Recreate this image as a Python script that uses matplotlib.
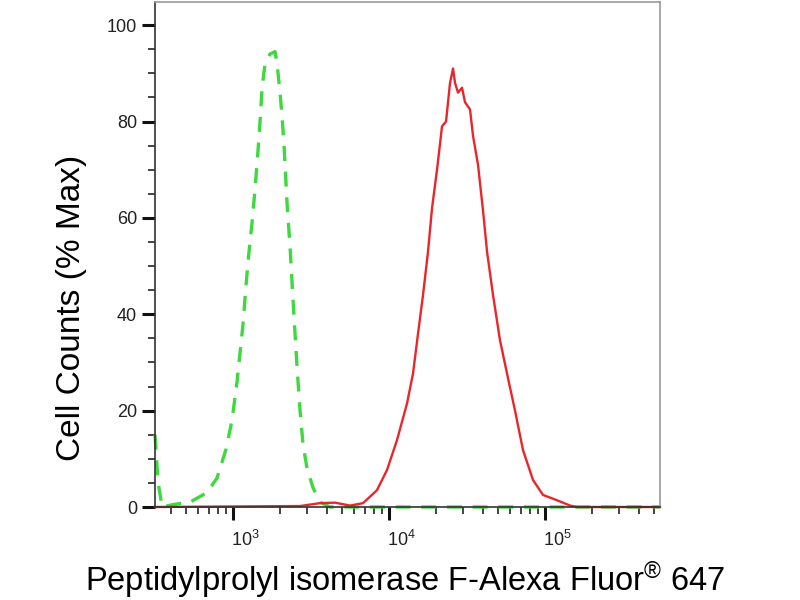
import numpy as np
import matplotlib
matplotlib.use('Agg')
import matplotlib.pyplot as plt
import matplotlib.transforms as mtransforms
from matplotlib.ticker import LogLocator, FixedLocator, MultipleLocator

plt.rcParams['font.family'] = ['Liberation Sans', 'DejaVu Sans']
plt.rcParams['mathtext.fontset'] = 'custom'
plt.rcParams['mathtext.rm'] = 'Liberation Sans'
plt.rcParams['mathtext.it'] = 'Liberation Sans'

# Isotype control (green, dashed) - intensity vs % max
ctrl_x = [316, 331, 351, 412, 529, 681, 789, 902, 985, 1061, 1109, 1159,
          1211, 1266, 1324, 1384, 1446, 1490, 1535, 1604, 1727, 1858, 1915,
          2001, 2062, 2123, 2220, 2320, 2424, 2573, 2689, 2810, 2981, 3257,
          3612, 4186, 546000]
ctrl_y = [15, 5, 0, 0.5, 1, 3, 6, 12, 18, 26, 32, 38,
          46, 53, 59, 66, 74, 80, 87, 92, 94, 94.5, 92,
          86, 81, 75, 63, 54, 43, 29, 20, 13, 8, 4,
          1, 0, 0]

# Stained sample (red, solid)
smp_x = [316, 2689, 3612, 4506, 5623, 6813, 8375, 9710, 11253, 13045, 14249,
         15346, 16517, 17783, 18862, 20312, 21864, 23199, 23892, 24603, 25722,
         26493, 27690, 29376, 30706, 33058, 34559, 37199, 40055, 42487, 46416,
         51453, 57069, 64222, 72277, 83783, 97096, 119400, 144670, 160360,
         546000]
smp_y = [0, 0.2, 0.8, 0.9, 0.3, 0.8, 3.5, 7.7, 13.9, 21.5, 27.7,
         36, 44, 53, 62, 70, 79, 80, 84, 88, 91,
         88, 86, 87, 84, 82.5, 77, 71, 61.5, 53, 44,
         34.6, 27.7, 20, 11.8, 5.6, 2.5, 1.4, 0.3, 0,
         0]

fig = plt.figure(figsize=(8, 6), dpi=100)
ax = fig.add_axes([155/800, 93/600, 505/800, 505/600])

ax.plot(ctrl_x, ctrl_y, color='#3fd93f', lw=2.4, ls=(0, (4.5, 3.2)), clip_on=False)
ax.plot(smp_x, smp_y, color='#e8262b', lw=1.7, clip_on=False)

ax.set_xscale('log')
ax.set_xlim(316, 546000)
ax.set_ylim(0, 104.8)

ax.xaxis.set_major_locator(FixedLocator([1e3, 1e4, 1e5]))
ax.xaxis.set_minor_locator(LogLocator(base=10, subs=np.arange(2, 10), numticks=20))
ax.set_xticklabels(['$10^3$', '$10^4$', '$10^5$'])
ax.yaxis.set_major_locator(MultipleLocator(20))
ax.yaxis.set_minor_locator(MultipleLocator(5))

ax.tick_params(which='major', length=9.5, width=2.2, color='#111111', labelsize=13,
               labelcolor='#222222')
ax.tick_params(which='minor', length=5, width=1.1, color='#111111')
ax.tick_params(axis='x', which='major', pad=7, labelsize=13)

# shift x tick labels a bit to the right like the reference
offset = mtransforms.ScaledTranslation(12/100, 0, fig.dpi_scale_trans)
for lab in ax.get_xticklabels():
    lab.set_transform(lab.get_transform() + offset)

for side in ['left', 'bottom']:
    ax.spines[side].set_color('#333333')
    ax.spines[side].set_linewidth(1.2)
for side in ['top', 'right']:
    ax.spines[side].set_color('#999999')
    ax.spines[side].set_linewidth(1.2)

ax.set_ylabel('Cell Counts (% Max)', fontsize=24)
ax.yaxis.set_label_coords(-0.135, 0.394)
ax.set_xlabel('Peptidylprolyl isomerase F-Alexa Fluor$^{\\mathrm{®}}$ 647', fontsize=23.5)
ax.xaxis.set_label_coords(0.495, -0.103)
ax.xaxis.label.set_va('top')

fig.savefig('out.png', dpi=100)
